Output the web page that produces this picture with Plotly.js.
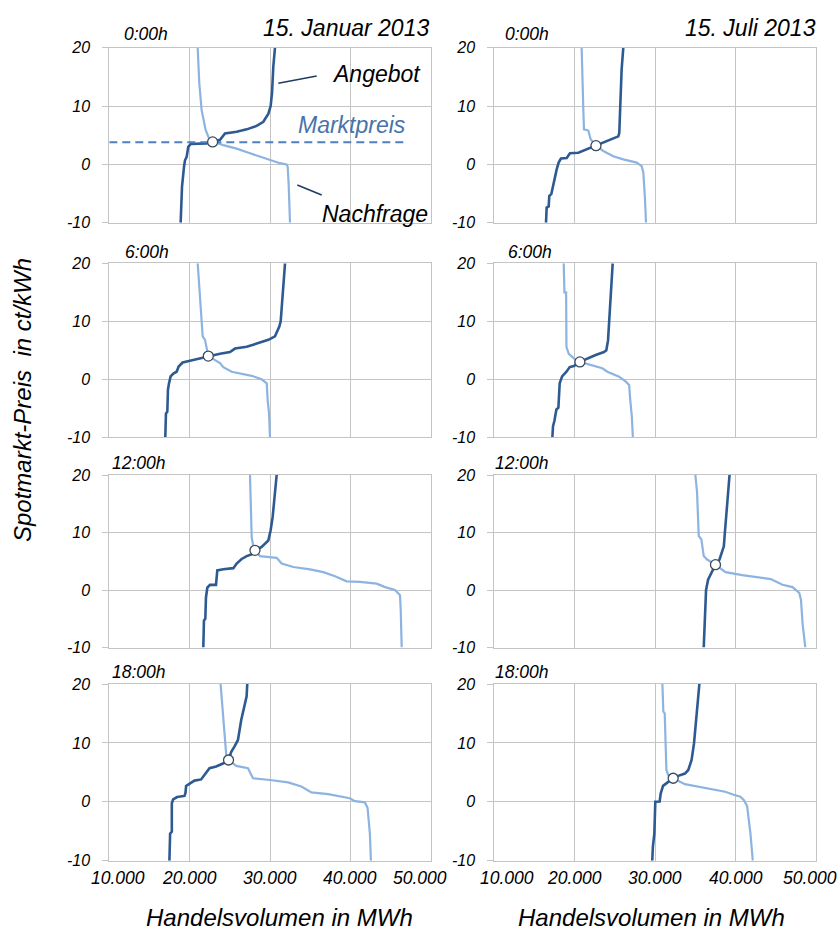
<!DOCTYPE html>
<html>
<head>
<meta charset="utf-8">
<script src="https://cdn.plot.ly/plotly-3.0.1.min.js"></script>
<style>html,body{margin:0;padding:0;background:#fff;}#chart{width:837px;height:934px;}</style>
</head>
<body>
<div id="chart"></div>
<script>
// ---------- data (MWh, ct/kWh) ----------
const xTickVals = [10000, 20000, 30000, 40000, 50000];
const xTickLabels = ['10.000', '20.000', '30.000', '40.000', '50.000'];
const yTickVals = [-10, 0, 10, 20];
const yTickLabels = ['-10', '0', '10', '20'];
const hourLabels = ['0:00h', '6:00h', '12:00h', '18:00h'];
const dayLabels = ['15. Januar 2013', '15. Juli 2013'];

// 15. Januar 2013, 0:00h
const janH0SupplyX = [18880, 18960, 19050, 19300, 19420, 19630, 19830, 20130, 22110, 22860, 23780, 24400, 25850, 27100, 28340, 29170, 29800, 30080, 30250, 30410, 30620];
const janH0SupplyY = [-10, -6.1, -3.8, -0.4, 0.7, 1.3, 3.0, 3.5, 3.6, 3.9, 4.2, 5.3, 5.6, 6.0, 6.6, 7.3, 8.7, 10, 12.2, 16.7, 20];
const janH0DemandX = [21000, 21200, 21490, 21700, 21990, 22400, 22860, 24190, 25850, 27510, 29170, 30410, 31240, 32070, 32200, 32320, 32400, 32490];
const janH0DemandY = [20, 13.9, 9.3, 7.6, 5.9, 4.5, 3.9, 3.3, 2.7, 1.9, 1.2, 0.6, 0.2, 0, -0.4, -3.3, -6.1, -10];
const janH0Price = [22860, 3.85];

// 15. Juli 2013, 0:00h
const julH0SupplyX = [16430, 16510, 16760, 16840, 17090, 17460, 17750, 18000, 18290, 19000, 19410, 20450, 21480, 22640, 23550, 24590, 25420, 25540, 25630, 25710, 25830, 26040];
const julH0SupplyY = [-10, -7.4, -7.2, -5.4, -5.1, -2.6, -0.9, 0.3, 1.0, 1.1, 1.9, 2.0, 2.6, 3.2, 3.7, 4.3, 4.8, 5.4, 10, 13.9, 16.2, 20];
const julH0DemandX = [20860, 20940, 21070, 21150, 21690, 21980, 22640, 23550, 24800, 26040, 27080, 27700, 28320, 28530, 28740, 28860];
const julH0DemandY = [20, 13.9, 9.4, 6.0, 5.8, 4.3, 3.2, 2.3, 1.4, 0.85, 0.55, 0.3, -0.3, -1.4, -6.0, -10];
const julH0Price = [22640, 3.2];

// 15. Januar 2013, 6:00h
const janH6SupplyX = [16970, 17050, 17220, 17300, 17430, 17630, 17970, 18380, 18630, 19130, 20040, 21290, 22320, 23780, 25020, 25640, 27100, 28550, 29790, 30620, 31160, 31330, 31450, 31660, 31870];
const janH6SupplyY = [-10, -5.9, -5.6, -1.8, -0.7, 0.5, 1.0, 1.3, 2.2, 2.9, 3.2, 3.6, 4.0, 4.4, 4.7, 5.3, 5.6, 6.2, 6.8, 7.4, 9.1, 10, 12.5, 17.1, 20];
const janH6DemandX = [21000, 21200, 21450, 21620, 21910, 22120, 22320, 23780, 24190, 25230, 26470, 27720, 28960, 29590, 29710, 29880, 30000];
const janH6DemandY = [20, 15.4, 9.7, 7.4, 6.8, 5.1, 4.0, 2.8, 2.1, 1.3, 1.0, 0.6, 0, -0.7, -3.6, -5.9, -10];
const janH6Price = [22320, 4.0];

// 15. Juli 2013, 6:00h
const julH6SupplyX = [17220, 17300, 17470, 17720, 17970, 18050, 18130, 18430, 18970, 19380, 19890, 20640, 21550, 22600, 23640, 23930, 24140, 24270, 24350, 24600, 24720];
const julH6SupplyY = [-10, -8.1, -7.2, -5.2, -4.9, -3.0, -0.7, 0.5, 1.3, 2.1, 2.3, 3.0, 3.6, 4.2, 4.7, 5.0, 6.7, 10, 12.4, 16.4, 20];
const julH6DemandX = [18630, 18720, 18930, 18930, 18970, 19260, 19890, 20640, 22390, 23430, 24060, 24890, 25520, 26350, 26770, 26900, 27100, 27230];
const julH6DemandY = [20, 15.0, 15.0, 9.6, 5.6, 4.4, 3.6, 3.0, 2.3, 1.9, 1.3, 0.85, 0.45, -0.4, -1.0, -3.5, -6.4, -10];
const julH6Price = [20640, 3.0];

// 15. Januar 2013, 12:00h
const janH12SupplyX = [21700, 21780, 21950, 22030, 22200, 22530, 23280, 23440, 24190, 25440, 25850, 26470, 27100, 27720, 28220, 28960, 29790, 30080, 30330, 30620, 30830];
const janH12SupplyY = [-10, -5.3, -5.0, -1.3, 0.4, 0.9, 0.9, 3.4, 3.6, 3.8, 4.6, 5.4, 5.9, 6.2, 6.9, 7.5, 8.6, 10.4, 12.7, 16.8, 20];
const janH12DemandX = [27510, 27630, 27720, 27930, 28130, 28760, 30830, 31450, 32900, 34980, 36640, 38090, 39540, 41200, 43280, 44320, 45560, 46180, 46270, 46390];
const janH12DemandY = [20, 15.6, 9.2, 7.5, 6.9, 5.9, 5.6, 4.6, 4.0, 3.6, 3.1, 2.4, 1.5, 1.4, 1.1, 0.5, 0, -0.9, -3.5, -10];
const janH12Price = [28130, 6.9];

// 15. Juli 2013, 12:00h
const julH12SupplyX = [36040, 36170, 36330, 36580, 36870, 37500, 38000, 38540, 38670, 38830, 39000, 39250];
const julH12SupplyY = [-10, -4.6, 0.0, 1.8, 2.7, 4.4, 5.3, 7.6, 10, 12.9, 15.8, 20];
const julH12DemandX = [35000, 35210, 35420, 35750, 36040, 36460, 37500, 38750, 40830, 42500, 44380, 45830, 47080, 47920, 48130, 48330, 48670];
const julH12DemandY = [20, 17.0, 9.4, 8.8, 5.9, 5.3, 4.4, 3.1, 2.6, 2.3, 1.9, 0.9, 0.5, -0.5, -1.7, -5.8, -10];
const julH12Price = [37500, 4.4];

// 15. Januar 2013, 18:00h
const janH18SupplyX = [17480, 17570, 17780, 17780, 17940, 18440, 19360, 19480, 19560, 19980, 20600, 21430, 21930, 22470, 23300, 24140, 24840, 25180, 25590, 26010, 26420, 26840, 27090, 27170];
const janH18SupplyY = [-10, -5.4, -5.1, -0.3, 0.4, 0.8, 1.0, 1.5, 2.7, 3.1, 3.6, 3.8, 4.8, 5.7, 6.0, 6.5, 7.1, 8.5, 9.4, 10.5, 13.9, 16.7, 17.9, 20];
const janH18DemandX = [23850, 24140, 24350, 24550, 24840, 25800, 27260, 27880, 30000, 32250, 33910, 35160, 37230, 38480, 39940, 40560, 41810, 42140, 42430, 42560];
const janH18DemandY = [20, 15.0, 9.9, 8.0, 7.1, 6.1, 5.7, 4.0, 3.7, 3.3, 2.6, 1.6, 1.3, 1.0, 0.6, 0.1, -0.1, -1.0, -5.4, -10];
const janH18Price = [24840, 7.1];

// 15. Juli 2013, 18:00h
const julH18SupplyX = [29640, 29720, 29900, 29940, 30020, 30560, 30690, 30980, 31610, 32030, 32240, 32860, 33700, 34120, 34530, 34830, 35250, 35500];
const julH18SupplyY = [-10, -7.6, -5.4, -0.2, 0, 0.05, 1.4, 2.7, 3.3, 3.7, 4.0, 4.4, 4.8, 5.4, 7.1, 9.9, 15.6, 20];
const julH18DemandX = [30900, 31020, 31190, 31400, 31610, 32240, 33700, 35370, 37460, 38710, 39760, 40600, 41010, 41430, 41850, 42140];
const julH18DemandY = [20, 15.3, 15.0, 5.4, 4.6, 4.0, 3.0, 2.6, 2.1, 1.7, 1.2, 0.85, 0.3, -0.7, -5.4, -10];
const julH18Price = [32240, 4.0];

// Marktpreis-Linie (15. Januar 2013, 0:00h)
const marketLineX = [10000, 47000];
const marketPrice = 3.8;

// ---------- build ----------
const panels = [
  [janH0SupplyX, janH0SupplyY, janH0DemandX, janH0DemandY, janH0Price],
  [julH0SupplyX, julH0SupplyY, julH0DemandX, julH0DemandY, julH0Price],
  [janH6SupplyX, janH6SupplyY, janH6DemandX, janH6DemandY, janH6Price],
  [julH6SupplyX, julH6SupplyY, julH6DemandX, julH6DemandY, julH6Price],
  [janH12SupplyX, janH12SupplyY, janH12DemandX, janH12DemandY, janH12Price],
  [julH12SupplyX, julH12SupplyY, julH12DemandX, julH12DemandY, julH12Price],
  [janH18SupplyX, janH18SupplyY, janH18DemandX, janH18DemandY, janH18Price],
  [julH18SupplyX, julH18SupplyY, julH18DemandX, julH18DemandY, julH18Price]
];

const W = 837, H = 934;
const colDom = [[109.3 / W, 430.7 / W], [494.3 / W, 816 / W]];
const rowPx = [[47.7, 222.7], [263.3, 437.3], [475, 647.5], [684, 860.7]];
const rowDom = rowPx.map(r => [1 - r[1] / H, 1 - r[0] / H]);

const SUPPLY = '#2e5a92';
const DEMAND = '#8db3e1';
const GRID = '#c4c4c4';
const FONT = 'Liberation Sans, Arial, sans-serif';

// as in the original, the outermost x labels are kept inside the plot width (pixel nudges per column)
const xLabelNudge = [[9, 0, 0, 0, -11], [13, 0, 0, 0, -6]];

const traces = [];
const layout = {
  width: W, height: H,
  margin: {l: 0, r: 0, t: 0, b: 0},
  paper_bgcolor: '#fff', plot_bgcolor: '#fff',
  showlegend: false, hovermode: false,
  annotations: [], shapes: []
};

panels.forEach((p, i) => {
  const n = i + 1;
  const xa = 'x' + (n === 1 ? '' : n), ya = 'y' + (n === 1 ? '' : n);
  const row = Math.floor(i / 2), col = i % 2;
  traces.push({x: p[2], y: p[3], xaxis: xa, yaxis: ya, type: 'scatter', mode: 'lines',
    line: {color: DEMAND, width: 2.2}});
  traces.push({x: p[0], y: p[1], xaxis: xa, yaxis: ya, type: 'scatter', mode: 'lines',
    line: {color: SUPPLY, width: 2.6}});
  if (i === 0) {
    traces.push({x: marketLineX, y: [marketPrice, marketPrice], xaxis: xa, yaxis: ya, type: 'scatter', mode: 'lines',
      line: {color: '#4f7fc0', width: 2, dash: '8px,5px'}});
  }
  traces.push({x: [p[4][0]], y: [p[4][1]], xaxis: xa, yaxis: ya, type: 'scatter', mode: 'markers',
    marker: {size: 10, color: '#ffffff', line: {color: '#3c4a5c', width: 1.3}}, cliponaxis: false});

  const xKey = 'xaxis' + (n === 1 ? '' : n), yKey = 'yaxis' + (n === 1 ? '' : n);
  layout[xKey] = {
    domain: colDom[col], anchor: ya, range: [10000, 50000], fixedrange: true,
    tickmode: 'array', tickvals: xTickVals, ticktext: xTickLabels,
    showticklabels: false, ticks: '',
    showgrid: true, gridcolor: GRID, gridwidth: 1, zeroline: false,
    showline: true, linecolor: GRID, linewidth: 1, mirror: true
  };
  layout[yKey] = {
    domain: rowDom[row], anchor: xa, range: [-10, 20], fixedrange: true,
    tickmode: 'array', tickvals: yTickVals, ticktext: yTickLabels,
    ticks: 'outside', ticklen: 6, tickcolor: GRID, tickwidth: 1,
    ticklabelstandoff: 9,
    tickfont: {family: FONT, size: 16, style: 'italic', color: '#000'},
    showgrid: true, gridcolor: GRID, gridwidth: 1, zeroline: false,
    showline: true, linecolor: GRID, linewidth: 1, mirror: true
  };
  // x tick labels of the bottom row, placed on the axis scale
  if (row === 3) {
    xTickVals.forEach((v, k) => {
      layout.annotations.push({xref: xa, yref: ya, x: v, y: -10, xanchor: 'center', yanchor: 'top',
        xshift: xLabelNudge[col][k], yshift: -5, showarrow: false, text: xTickLabels[k],
        font: {family: FONT, size: 17.5, style: 'italic', color: '#000'}});
    });
  }
});

// hour labels
const hourPos = [[121.7, 34.3], [502.7, 34.3], [123.3, 251.7], [506, 251.7], [110, 463.3], [493, 463.3], [110, 671.7], [493, 671.7]];
hourPos.forEach((pos, i) => {
  layout.annotations.push({xref: 'paper', yref: 'paper', x: pos[0] / W, y: 1 - pos[1] / H,
    xanchor: 'left', yanchor: 'middle', showarrow: false, text: hourLabels[Math.floor(i / 2)],
    font: {family: FONT, size: 17.5, style: 'italic', color: '#000'}});
});
// day titles
layout.annotations.push({xref: 'paper', yref: 'paper', x: 431 / W, y: 1 - 28 / H, xanchor: 'right', yanchor: 'middle',
  showarrow: false, text: dayLabels[0], font: {family: FONT, size: 23, style: 'italic', color: '#000'}});
layout.annotations.push({xref: 'paper', yref: 'paper', x: 818 / W, y: 1 - 28 / H, xanchor: 'right', yanchor: 'middle',
  showarrow: false, text: dayLabels[1], font: {family: FONT, size: 23, style: 'italic', color: '#000'}});
// curve labels
layout.annotations.push({xref: 'paper', yref: 'paper', x: 330 / W, y: 1 - 74 / H, xanchor: 'left', yanchor: 'middle',
  showarrow: false, text: 'Angebot', font: {family: FONT, size: 23, style: 'italic', color: '#000'}});
layout.annotations.push({xref: 'paper', yref: 'paper', x: 320 / W, y: 1 - 214 / H, xanchor: 'left', yanchor: 'middle',
  showarrow: false, text: 'Nachfrage', font: {family: FONT, size: 23, style: 'italic', color: '#000'}});
layout.annotations.push({xref: 'paper', yref: 'paper', x: 296 / W, y: 1 - 125 / H, xanchor: 'left', yanchor: 'middle',
  showarrow: false, text: 'Marktpreis', font: {family: FONT, size: 23, style: 'italic', color: '#4a72a8'}});
// axis titles
layout.annotations.push({xref: 'paper', yref: 'paper', x: 279 / W, y: 1 - 917 / H, xanchor: 'center', yanchor: 'middle',
  showarrow: false, text: 'Handelsvolumen in MWh', font: {family: FONT, size: 24, style: 'italic', color: '#000'}});
layout.annotations.push({xref: 'paper', yref: 'paper', x: 651 / W, y: 1 - 917 / H, xanchor: 'center', yanchor: 'middle',
  showarrow: false, text: 'Handelsvolumen in MWh', font: {family: FONT, size: 24, style: 'italic', color: '#000'}});
layout.annotations.push({xref: 'paper', yref: 'paper', x: 22 / W, y: 1 - 400 / H, xanchor: 'center', yanchor: 'middle',
  textangle: -90, showarrow: false, text: 'Spotmarkt-Preis&nbsp;&nbsp;in ct/kWh',
  font: {family: FONT, size: 24, style: 'italic', color: '#000'}});
// leader lines
layout.shapes.push({type: 'line', xref: 'paper', yref: 'paper', x0: 278.3 / W, y0: 1 - 83.3 / H, x1: 316.7 / W, y1: 1 - 76 / H,
  line: {color: '#1f3b66', width: 1.5}});
layout.shapes.push({type: 'line', xref: 'paper', yref: 'paper', x0: 297.3 / W, y0: 1 - 185 / H, x1: 321.7 / W, y1: 1 - 195 / H,
  line: {color: '#1f3b66', width: 1.5}});

Plotly.newPlot('chart', traces, layout, {staticPlot: true, displayModeBar: false});
</script>
</body>
</html>
